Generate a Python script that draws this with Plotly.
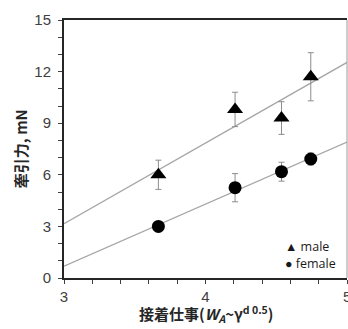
import numpy as np
import plotly.graph_objects as go

# Data
x_work = [3.667, 4.209, 4.537, 4.744]
male_force = [6.0, 9.8, 9.3, 11.7]
male_err = [0.85, 1.0, 0.95, 1.4]
female_force = [3.0, 5.25, 6.18, 6.92]
female_err = [0.25, 0.82, 0.55, 0.35]
x_ticks = [3, 4, 5]
y_ticks = [0, 3, 6, 9, 12, 15]
fit_x = [3, 5]
series_names = ["male", "female"]
legend_glyphs = ["▲", "●"]

fig = go.Figure()

for yv in (male_force, female_force):
    k, b = np.polyfit(x_work, yv, 1)
    fig.add_trace(go.Scatter(
        x=fit_x, y=[k * v + b for v in fit_x], mode="lines",
        line=dict(color="#a6a6a6", width=1.3), showlegend=False,
        hoverinfo="skip"))

fig.add_trace(go.Scatter(
    x=x_work, y=male_force, mode="markers", name=series_names[0],
    marker=dict(symbol="triangle-up", size=14, color="black"),
    error_y=dict(type="data", array=male_err, color="#8c8c8c",
                 thickness=1, width=3), showlegend=False))
fig.add_trace(go.Scatter(
    x=x_work, y=female_force, mode="markers", name=series_names[1],
    marker=dict(symbol="circle", size=13, color="black"),
    error_y=dict(type="data", array=female_err, color="#8c8c8c",
                 thickness=1, width=3), showlegend=False))

axis_font = dict(family="Liberation Sans, Arial, sans-serif", size=15, color="#404040")
legend_font = dict(family="Open Sans, sans-serif", size=12.5, color="#1a1a1a")

legend_ann = [
    dict(text=f"{g} {n}", xref="paper", yref="paper", x=0.775, y=yy,
         xanchor="left", yanchor="middle", showarrow=False, font=legend_font)
    for g, n, yy in zip(legend_glyphs, series_names, [0.124, 0.058])
]
# last x tick label, partly cut by the right edge as in the reference
edge_label = [dict(text=str(x_ticks[-1]), xref="x", yref="paper", x=x_ticks[-1],
                   y=-0.03, xanchor="center", yanchor="top", showarrow=False,
                   font=axis_font)]

fig.update_layout(
    width=348, height=329,
    margin=dict(l=64, r=1, t=20, b=51),
    paper_bgcolor="white", plot_bgcolor="white",
    showlegend=False,
    xaxis=dict(range=[3, 5], tickvals=x_ticks, ticks="outside", ticklen=4,
               tickcolor="#404040", showline=True, linecolor="#262626",
               linewidth=2, mirror=True, showgrid=False, zeroline=False,
               tickfont=axis_font, ticklabelstandoff=0,
               minor=dict(dtick=0.2, ticks="outside", ticklen=4, tickcolor="#404040")),
    yaxis=dict(range=[0, 15], tickvals=y_ticks, ticks="outside", ticklen=4,
               tickcolor="#404040", showline=True, linecolor="#262626",
               linewidth=2, showgrid=False, zeroline=False,
               tickfont=axis_font, ticklabelstandoff=4,
               minor=dict(dtick=1, ticks="outside", ticklen=4, tickcolor="#404040")),
    shapes=[dict(type="line", xref="paper", yref="paper", x0=1, x1=1, y0=0, y1=1,
                 line=dict(color="#9a9a9a", width=1))],
    annotations=[
        dict(text="<b>接着仕事(<i>W</i><sub><i>A</i></sub>~γ<sup>d 0.5</sup>)</b>",
             xref="paper", yref="paper", x=0.5, y=-0.192, xanchor="center",
             yanchor="bottom", showarrow=False,
             font=dict(family="Noto Sans CJK JP, sans-serif", size=15, color="#262626")),
        dict(text="<b>牽引力, mN</b>", textangle=-90,
             xref="paper", yref="paper", x=-0.155, y=0.5, xanchor="center",
             yanchor="middle", showarrow=False,
             font=dict(family="Noto Sans CJK JP, sans-serif", size=15, color="#262626")),
    ] + legend_ann + edge_label,
)

fig.write_html("out.html", config={"displayModeBar": False},
               post_script="document.body.style.margin='0';")
